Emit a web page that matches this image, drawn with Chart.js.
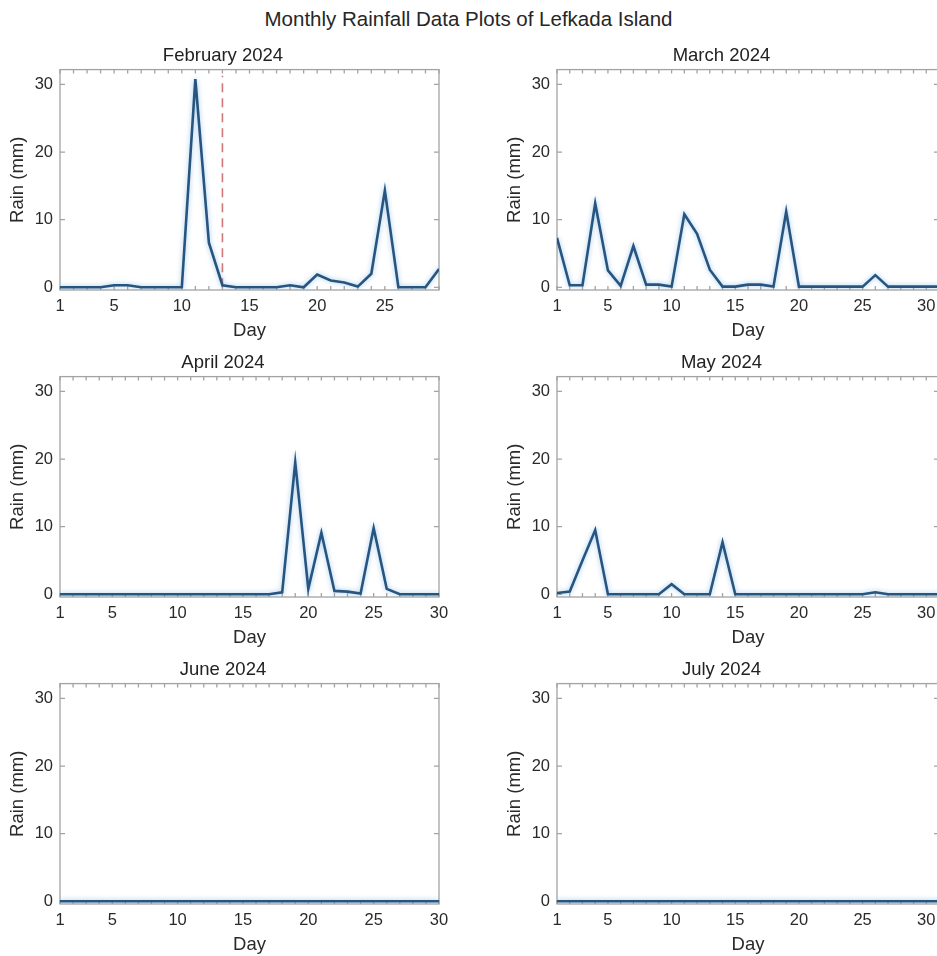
<!DOCTYPE html>
<html>
<head>
<meta charset="utf-8">
<title>Monthly Rainfall - Lefkada</title>
<script src="https://cdn.jsdelivr.net/npm/chart.js@4.4.1/dist/chart.umd.min.js"></script>
<style>
  html, body { margin: 0; padding: 0; background: #fff; overflow: hidden; }
  body { width: 937px; height: 956px; position: relative; font-family: "Liberation Sans", Arial, sans-serif; }
  #suptitle { position: absolute; left: 0; top: 7px; width: 937px; text-align: center; font-size: 20.5px; color: #262626; }
  canvas { position: absolute; }
</style>
</head>
<body>
<div id="suptitle">Monthly Rainfall Data Plots of Lefkada Island</div>
<canvas id="c0"></canvas>
<canvas id="c1"></canvas>
<canvas id="c2"></canvas>
<canvas id="c3"></canvas>
<canvas id="c4"></canvas>
<canvas id="c5"></canvas>
<script>
// daily rainfall (mm), one value per day of the month
const febRain = [0, 0, 0, 0, 0.3, 0.3, 0, 0, 0, 0, 30.8, 6.6, 0.3, 0, 0, 0, 0, 0.3, 0, 1.9,
  1.0, 0.7, 0.1, 2.0, 14.3, 0, 0, 0, 2.7];
const marRain = [7.3, 0.3, 0.3, 12.4, 2.5, 0.2, 6.1, 0.4, 0.4, 0.1, 10.8, 7.9, 2.6, 0.1, 0.1, 0.4,
  0.4, 0.1, 11.2, 0.1, 0.1, 0.1, 0.1, 0.1, 0.1, 1.8, 0.1, 0.1, 0.1, 0.1, 0.1];
const aprRain = [0, 0, 0, 0, 0, 0, 0, 0, 0, 0, 0, 0, 0, 0, 0, 0, 0, 0.3, 19.5, 0.8,
  9.1, 0.5, 0.4, 0.1, 9.8, 0.8, 0, 0, 0, 0];
const mayRain = [0.2, 0.4, 5.0, 9.5, 0, 0, 0, 0, 0, 1.5, 0, 0, 0, 7.7, 0, 0,
  0, 0, 0, 0, 0, 0, 0, 0, 0, 0.3, 0, 0, 0, 0, 0];
const junRain = [0, 0, 0, 0, 0, 0, 0, 0, 0, 0, 0, 0, 0, 0, 0, 0, 0, 0, 0, 0,
  0, 0, 0, 0, 0, 0, 0, 0, 0, 0];
const julRain = [0, 0, 0, 0, 0, 0, 0, 0, 0, 0, 0, 0, 0, 0, 0, 0, 0, 0, 0, 0,
  0, 0, 0, 0, 0, 0, 0, 0, 0, 0, 0];

const monthTitles = ['February 2024', 'March 2024', 'April 2024', 'May 2024', 'June 2024', 'July 2024'];
const monthRain = [febRain, marRain, aprRain, mayRain, junRain, julRain];

const dayTicks = [1, 5, 10, 15, 20, 25, 30];
const rainTicks = [0, 10, 20, 30];
const rainMin = -0.4;
const rainMax = 32.2;

// dashed marker in February
const febMarkDay = 13;
const febMarkTop = [0, 31.3];

Chart.defaults.font.family = '"Liberation Sans", Arial, sans-serif';
Chart.defaults.color = '#2a2a2a';
Chart.defaults.animation = false;

// subplot grid placement
const rowTops = [42, 349, 656];
const colLefts = [0, 497];
const colWidths = [470, 452];
const colPadRight = [31, 10];
const canvasH = 304;

// box around the axes with inward ticks, like a MATLAB axes
const framePlugin = {
  id: 'frame',
  beforeDatasetsDraw(chart) {
    const { ctx, chartArea: a, scales: { x, y } } = chart;
    ctx.save();
    ctx.strokeStyle = '#a3a3a3';
    ctx.lineWidth = 1.3;
    ctx.strokeRect(a.left, a.top, a.right - a.left, a.bottom - a.top);
    ctx.beginPath();
    for (let d = Math.ceil(x.min); d <= x.max; d++) {
      const px = x.getPixelForValue(d);
      ctx.moveTo(px, a.top); ctx.lineTo(px, a.top + 4);
      ctx.moveTo(px, a.bottom); ctx.lineTo(px, a.bottom - 4);
    }
    rainTicks.forEach(v => {
      const py = y.getPixelForValue(v);
      ctx.moveTo(a.left, py); ctx.lineTo(a.left + 5, py);
      ctx.moveTo(a.right, py); ctx.lineTo(a.right - 5, py);
    });
    ctx.stroke();
    ctx.restore();
  }
};

// soft halo under the rain line
const glowPlugin = {
  id: 'glow',
  beforeDatasetDraw(chart, args) {
    chart.ctx.save();
    if (args.index === 0) {
      chart.ctx.shadowColor = 'rgba(90,160,220,0.6)';
      chart.ctx.shadowBlur = 5;
    }
  },
  afterDatasetDraw(chart) {
    chart.ctx.restore();
  }
};

monthRain.forEach((rain, i) => {
  const row = Math.floor(i / 2), col = i % 2;
  const canvas = document.getElementById('c' + i);
  canvas.width = colWidths[col];
  canvas.height = canvasH;
  canvas.style.left = colLefts[col] + 'px';
  canvas.style.top = rowTops[row] + 'px';

  const datasets = [{
    data: rain.map((v, d) => ({ x: d + 1, y: v })),
    borderColor: '#27557f',
    borderWidth: 2.6,
    pointRadius: 0,
    tension: 0
  }];
  if (i === 0) {
    datasets.push({
      data: febMarkTop.map(v => ({ x: febMarkDay, y: v })),
      borderColor: 'rgba(200,95,95,0.85)',
      borderWidth: 1.6,
      borderDash: [9, 6],
      pointRadius: 0
    });
  }

  new Chart(canvas, {
    type: 'line',
    data: { datasets },
    plugins: [framePlugin, glowPlugin],
    options: {
      responsive: false,
      layout: { padding: { left: 7, right: colPadRight[col], top: 0, bottom: 2 } },
      plugins: {
        legend: { display: false },
        tooltip: { enabled: false },
        title: {
          display: true,
          text: monthTitles[i],
          color: '#222',
          font: { size: 18.5, weight: 'normal' },
          padding: { top: 3, bottom: 2.4 }
        }
      },
      scales: {
        x: {
          type: 'linear',
          min: 1,
          max: rain.length,
          grid: { display: false, drawTicks: false },
          border: { display: false },
          afterBuildTicks: s => { s.ticks = dayTicks.filter(d => d <= rain.length).map(v => ({ value: v })); },
          afterFit: s => { s.height = 54; },
          ticks: { autoSkip: false, maxRotation: 0, padding: 7, font: { size: 16.5 } },
          title: { display: true, text: 'Day', color: '#2a2a2a', font: { size: 18.5 }, padding: { top: 0, bottom: 2 } }
        },
        y: {
          min: rainMin,
          max: rainMax,
          grid: { display: false, drawTicks: false },
          border: { display: false },
          afterBuildTicks: s => { s.ticks = rainTicks.map(v => ({ value: v })); },
          afterFit: s => { s.width = 53; },
          ticks: { padding: 7, font: { size: 16.5 } },
          title: { display: true, text: 'Rain (mm)', color: '#2a2a2a', font: { size: 18.5 }, padding: { top: 0, bottom: 0 } }
        }
      }
    }
  });
});
</script>
</body>
</html>
